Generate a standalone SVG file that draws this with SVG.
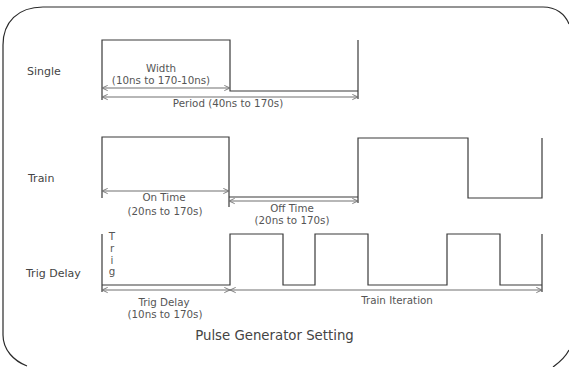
<svg xmlns="http://www.w3.org/2000/svg" width="569" height="367" viewBox="0 0 569 367">
<style>
.sig{fill:none;stroke:#3a3a3a;stroke-width:1.2}
.dim{fill:none;stroke:#707070;stroke-width:1.1;marker-start:url(#ah);marker-end:url(#ah)}
.frame{fill:none;stroke:#2a2a2a;stroke-width:1.2}
.lbl{font-family:"DejaVu Sans",Verdana,sans-serif;font-size:11px;fill:#444}
.sm{font-family:"DejaVu Sans",Verdana,sans-serif;font-size:10.3px;fill:#555;text-anchor:middle}
.title{font-family:"DejaVu Sans",Verdana,sans-serif;font-size:13.3px;fill:#444;text-anchor:middle}
</style>
<defs>
<marker id="ah" viewBox="0 0 8 8" refX="7.5" refY="4" markerWidth="7" markerHeight="7" markerUnits="userSpaceOnUse" orient="auto-start-reverse">
<path d="M1 1 L7.5 4 L1 7" fill="none" stroke="#707070" stroke-width="1"/>
</marker>
</defs>
<rect width="569" height="367" fill="#fff"/>
<g id="frame">
<path class="frame" d="M3 45 C3 22 18 7 43 7 L543 7 C556 7 565 14 569 24"/>
<path class="frame" d="M3 45 L3 335 C3 350 14 361 27 366"/>
<path class="frame" d="M553 367 C560 362 566 356 569 350"/>
</g>
<g id="single">
<text class="lbl" x="27" y="75">Single</text>
<path class="sig" d="M102 100 L102 40 L230 40 L230 91 L358 91"/>
<path class="sig" d="M358 99 L358 40"/>
<text class="sm" x="161" y="72">Width</text>
<text class="sm" x="161" y="84">(10ns to 170-10ns)</text>
<text class="sm" x="228" y="107">Period (40ns to 170s)</text>
</g>
<g id="train">
<text class="lbl" x="28" y="182">Train</text>
<path class="sig" d="M102 198 L102 137 L229 137 L229 207"/>
<path class="sig" d="M229 197 L358 197"/>
<path class="sig" d="M358 203 L358 138 L468 138 L468 198 L542 198 L542 138"/>
<text class="sm" x="164" y="201">On Time</text>
<text class="sm" x="165" y="215">(20ns to 170s)</text>
<text class="sm" x="292" y="212">Off Time</text>
<text class="sm" x="292" y="224">(20ns to 170s)</text>
</g>
<g id="trig-delay">
<text class="lbl" x="26" y="277">Trig Delay</text>
<path class="sig" d="M102 234 L102 292"/>
<text class="sm" x="112" y="240">T</text>
<text class="sm" x="112" y="252">r</text>
<text class="sm" x="112" y="264">i</text>
<text class="sm" x="112" y="275">g</text>
<path class="sig" d="M102 285 L230 285 L230 234 L283 234 L283 285 L315 285 L315 234 L368 234 L368 285 L447 285 L447 234 L500 234 L500 285 L542 285"/>
<path class="sig" d="M542 292 L542 234"/>
<text class="sm" x="164" y="306">Trig Delay</text>
<text class="sm" x="165" y="318">(10ns to 170s)</text>
<text class="sm" x="397" y="304">Train Iteration</text>
</g>
<g id="connectors">
<line class="dim" x1="102" y1="88" x2="230" y2="88"/>
<line class="dim" x1="102" y1="97" x2="358" y2="97"/>
<line class="dim" x1="102" y1="191" x2="229" y2="191"/>
<line class="dim" x1="229" y1="201" x2="358" y2="201"/>
<line class="dim" x1="102" y1="290" x2="230" y2="290"/>
<line class="dim" x1="230" y1="290" x2="542" y2="290"/>
</g>
<text class="title" x="274.5" y="340">Pulse Generator Setting</text>
</svg>
